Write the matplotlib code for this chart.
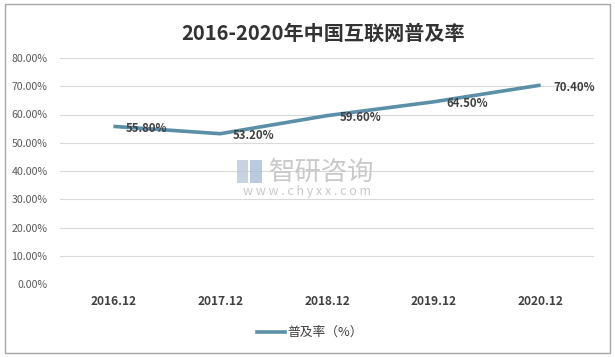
import matplotlib
matplotlib.use("Agg")
import matplotlib.pyplot as plt
from matplotlib.patches import Rectangle
from matplotlib.lines import Line2D

plt.rcParams['font.family'] = ['Noto Sans CJK SC', 'DejaVu Sans']

categories = ["2016.12", "2017.12", "2018.12", "2019.12", "2020.12"]
values = [55.80, 53.20, 59.60, 64.50, 70.40]
y_ticks = [0, 10, 20, 30, 40, 50, 60, 70, 80]
title = "2016-2020年中国互联网普及率"
series_name = "普及率（%）"

W, H = 615, 357
fig = plt.figure(figsize=(W / 100, H / 100), dpi=100)

# outer frame
fig.patches.append(Rectangle((5 / W, 4 / H), (610 - 5) / W, (353 - 4) / H,
                             transform=fig.transFigure, fill=False,
                             edgecolor='#a6a6a6', linewidth=1.0))

left, right = 60, 594
top, bottom = 58, 284
ax = fig.add_axes([left / W, 1 - bottom / H, (right - left) / W, (bottom - top) / H])

line_color = '#5b8fa8'
x = list(range(len(categories)))
ax.plot(x, values, color=line_color, linewidth=2.6, solid_capstyle='butt', zorder=3)
ax.set_xlim(-0.5, len(categories) - 0.5)
ax.set_ylim(0, 80)
ax.set_yticks(y_ticks)
ax.set_yticklabels([f"{v:.2f}%" for v in y_ticks], color='#595959', fontsize=7.6)
ax.set_xticks(x)
ax.set_xticklabels(categories, fontweight='bold', color='#404040', fontsize=8.6)
ax.tick_params(axis='both', length=0)
ax.tick_params(axis='y', pad=9)
ax.tick_params(axis='x', pad=8)
for s in ax.spines.values():
    s.set_visible(False)
ax.grid(axis='y', color='#d9d9d9', linewidth=0.8)
ax.set_axisbelow(True)

for xi, v in zip(x, values):
    ax.annotate(f"{v:.2f}%", (xi, v), xytext=(9, -1.5), textcoords='offset points',
                ha='left', va='center', fontsize=8.2, fontweight='bold', color='#404040', zorder=4)

# title
fig.text(323 / W, 1 - 33 / H, title, ha='center', va='center', fontsize=14.5,
         fontweight='bold', color='#333333')

# watermark
fig.text(322 / W, 1 - 172 / H, "智研咨询", ha='center', va='center', fontsize=19,
         color='#c4c4c4', alpha=0.9)
fig.patches.append(Rectangle((237 / W, 1 - 183 / H), 11 / W, 23 / H,
                             transform=fig.transFigure, facecolor='#b8c8dc',
                             edgecolor='none', alpha=0.8))
fig.patches.append(Rectangle((250 / W, 1 - 183 / H), 12 / W, 23 / H,
                             transform=fig.transFigure, facecolor='#a9bfd8',
                             edgecolor='none', alpha=0.8))
fig.text(307 / W, 1 - 192 / H, "w w w . c h y x x . c o m", ha='center', va='center',
         fontsize=9, color='#c8c8c8')

# legend
fig.add_artist(Line2D([257 / W, 285 / W], [1 - 332 / H, 1 - 332 / H],
                      transform=fig.transFigure, color=line_color, linewidth=2.6))
fig.text(287 / W, 1 - 332 / H, series_name, ha='left', va='center', fontsize=9.2,
         color='#404040')

fig.savefig("out.png", dpi=100)
